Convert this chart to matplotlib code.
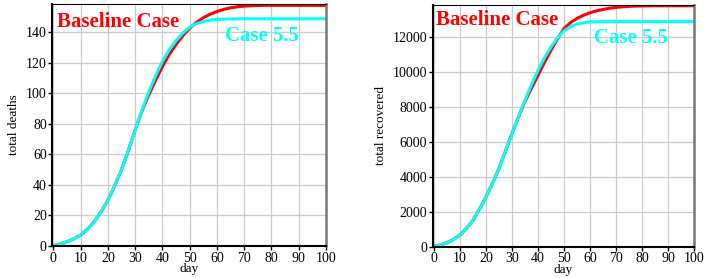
import matplotlib
matplotlib.use("Agg")
import matplotlib.pyplot as plt

days = [0, 2.5, 5, 7.5, 10, 12.5, 15, 17.5, 20, 22.5, 25, 27.5, 30, 32.5, 35, 37.5, 40,
        42.5, 45, 47.5, 50, 52.5, 55, 57.5, 60, 62.5, 65, 67.5, 70, 72.5, 75, 77.5, 80,
        85, 90, 95, 100]

deaths_base = [0.3, 1.2, 2.8, 4.7, 7.2, 11, 16, 22.5, 30, 39.5, 50, 62.5, 76, 88.5, 99, 108.5, 117.6,
               125.5, 132, 137.8, 142.7, 146.5, 149.5, 151.8, 153.6, 155, 156, 156.7, 157.1, 157.4, 157.5, 157.6, 157.6,
               157.6, 157.6, 157.6, 157.6]
deaths_case = [0.3, 1.2, 2.8, 4.7, 7.2, 11, 16, 22.5, 30, 39.5, 50, 62.5, 76, 89, 101, 111.5, 121,
               128.5, 134.5, 139.5, 143.4, 145.6, 147, 147.9, 148.4, 148.6, 148.7, 148.8, 148.8, 148.8, 148.8, 148.8, 148.8,
               148.8, 148.8, 148.8, 148.8]

rec_base = [30, 100, 230, 420, 670, 1050, 1530, 2150, 2865, 3650, 4490, 5500, 6495, 7450, 8350, 9100, 9838,
            10580, 11270, 11930, 12510, 12850, 13085, 13270, 13410, 13520, 13600, 13670, 13715, 13750, 13775, 13790, 13800,
            13810, 13810, 13810, 13810]
rec_case = [30, 100, 230, 420, 670, 1050, 1530, 2150, 2865, 3650, 4490, 5500, 6495, 7480, 8405, 9300, 10124,
            10850, 11460, 11980, 12380, 12620, 12760, 12840, 12875, 12890, 12900, 12900, 12900, 12900, 12900, 12900, 12900,
            12900, 12900, 12900, 12900]

xticks = [0, 10, 20, 30, 40, 50, 60, 70, 80, 90, 100]
yticks_deaths = [0, 20, 40, 60, 80, 100, 120, 140]
yticks_rec = [0, 2000, 4000, 6000, 8000, 10000, 12000]

serif = ["Liberation Serif", "DejaVu Serif"]

fig = plt.figure(figsize=(7.09, 2.78), dpi=100)
fig.patch.set_facecolor("white")

def style(ax, xlim, ylim, yticks, ylabel):
    ax.set_xlim(*xlim)
    ax.set_ylim(*ylim)
    ax.set_xticks(xticks)
    ax.set_yticks(yticks)
    ax.grid(True, color="#cccccc", linewidth=0.9)
    ax.set_axisbelow(True)
    for lab in ax.get_xticklabels() + ax.get_yticklabels():
        lab.set_family(serif)
        lab.set_fontsize(10)
    ax.tick_params(direction="out", length=3, width=1, pad=1)
    ax.spines["left"].set_linewidth(1.5)
    ax.spines["bottom"].set_linewidth(1.5)
    ax.spines["top"].set_linewidth(0.8)
    ax.spines["right"].set_linewidth(1.8)
    ax.spines["right"].set_color("#777777")
    ax.set_xlabel("day", family=serif, fontsize=9.5, labelpad=-1)
    ax.set_ylabel(ylabel, family=serif, fontsize=9.5, labelpad=4)

ax1 = fig.add_axes([0.0738, 0.1151, 0.386, 0.8705])
ax1.plot(days, deaths_base, color="#ff0000", linewidth=2.2)
ax1.plot(days, deaths_case, color="#00ffff", linewidth=2.2)
style(ax1, (-0.4, 100), (0, 158.5), yticks_deaths, "total deaths")
ax1.text(1.4, 143.3, "Baseline Case", color="#ff0000", family=serif, fontsize=15, fontweight="bold", va="baseline", ha="left")
ax1.text(63, 134.3, "Case 5.5", color="#00ffff", family=serif, fontsize=15, fontweight="bold", va="baseline", ha="left")

ax2 = fig.add_axes([0.6103, 0.1126, 0.369, 0.8705])
ax2.plot(days, rec_base, color="#ff0000", linewidth=2.2)
ax2.plot(days, rec_case, color="#00ffff", linewidth=2.2)
style(ax2, (-0.5, 100), (0, 13870), yticks_rec, "total recovered")
ax2.text(0.8, 12705, "Baseline Case", color="#ff0000", family=serif, fontsize=15, fontweight="bold", va="baseline", ha="left")
ax2.text(61.5, 11656, "Case 5.5", color="#00ffff", family=serif, fontsize=15, fontweight="bold", va="baseline", ha="left")

fig.savefig("out.png", dpi=100, facecolor="white")
